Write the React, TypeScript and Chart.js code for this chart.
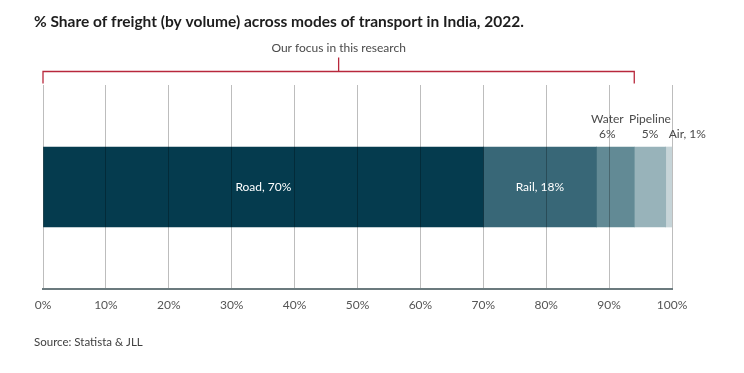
import React, { useEffect, useRef } from "react";
import { Chart, registerables } from "chart.js";

Chart.register(...registerables);

const rowLabels = ["India, 2022"];
const categories = ["Road", "Rail", "Water", "Pipeline", "Air"];
const shares = [70, 18, 6, 5, 1];
const colors = ["#053b4e", "#386777", "#628a95", "#98b3ba", "#c6d4d8"];
const focusModes = ["Road", "Rail", "Water"];
const titleText = "% Share of freight (by volume) across modes of transport in India, 2022.";
const focusText = "Our focus in this research";
const sourceText = "Source: Statista & JLL";

const FONT = "Lato, 'Noto Sans', sans-serif";

const annotations = {
  id: "annotations",
  afterDraw(chart: any) {
    const ctx = chart.ctx as CanvasRenderingContext2D;
    const xs = chart.scales.x;
    ctx.save();
    // title
    ctx.fillStyle = "#1d1d1d";
    ctx.font = `bold 15.5px ${FONT}`;
    ctx.textBaseline = "middle";
    ctx.textAlign = "left";
    ctx.fillText(titleText, 34, 22);
    // source
    ctx.fillStyle = "#404040";
    ctx.font = `11.5px ${FONT}`;
    ctx.fillText(sourceText, 34, 342);

    // focus bracket
    const focusEnd = shares
      .filter((_, i) => focusModes.includes(categories[i]))
      .reduce((a, b) => a + b, 0);
    const x0 = xs.getPixelForValue(0);
    const x1 = xs.getPixelForValue(focusEnd);
    const xm = (x0 + x1) / 2;
    const by = 71.5;
    ctx.strokeStyle = "#b8283c";
    ctx.lineWidth = 1.3;
    ctx.beginPath();
    ctx.moveTo(x0, by + 12);
    ctx.lineTo(x0, by);
    ctx.lineTo(x1, by);
    ctx.lineTo(x1, by + 12);
    ctx.moveTo(xm, by);
    ctx.lineTo(xm, by - 14);
    ctx.stroke();
    ctx.fillStyle = "#4a4a4a";
    ctx.font = `12px ${FONT}`;
    ctx.textAlign = "center";
    ctx.fillText(focusText, xm, 48);

    // data labels
    chart.data.datasets.forEach((ds: any, i: number) => {
      const meta = chart.getDatasetMeta(i);
      const bar = meta.data[0] as any;
      if (!bar) return;
      const left = bar.base;
      const right = bar.x;
      const cx = (left + right) / 2;
      const cy = bar.y;
      const name = categories[i];
      const val = shares[i];
      ctx.font = `12px ${FONT}`;
      if (val >= 10) {
        ctx.fillStyle = "#ffffff";
        ctx.textAlign = "center";
        ctx.fillText(`${name}, ${val}%`, cx, cy);
      } else if (val >= 3) {
        ctx.fillStyle = "#4a4a4a";
        ctx.textAlign = "center";
        const off = name === "Water" ? -8 : 0;
        ctx.fillText(name, cx + off, cy - 68);
        ctx.fillText(`${val}%`, cx + off, cy - 53);
      } else {
        ctx.fillStyle = "#4a4a4a";
        ctx.textAlign = "left";
        ctx.fillText(`${name}, ${val}%`, left + 3, cy - 53);
      }
    });
    ctx.restore();
  },
};

export default function App() {
  const ref = useRef<HTMLCanvasElement>(null);
  useEffect(() => {
    if (!ref.current) return;
    const chart = new Chart(ref.current, {
      type: "bar",
      data: {
        labels: rowLabels,
        datasets: categories.map((c, i) => ({
          label: c,
          data: [shares[i]],
          backgroundColor: colors[i],
          barThickness: 80,
          borderWidth: 0,
        })),
      },
      options: {
        indexAxis: "y",
        animation: false,
        responsive: false,
        layout: { padding: { left: 43, right: 72, top: 85, bottom: 44 } },
        plugins: {
          legend: { display: false },
          tooltip: { enabled: false },
          title: { display: false },
        },
        scales: {
          x: {
            type: "linear",
            stacked: true,
            min: 0,
            max: 100,
            ticks: {
              stepSize: 10,
              callback: (v: any) => `${v}%`,
              color: "#555555",
              font: { family: FONT, size: 12 },
              padding: 9,
            },
            grid: { color: "rgba(0,0,0,0.26)", drawTicks: false, z: 1 },
            border: { color: "#6b7a7e", width: 2, z: 2 },
            afterFit: (s: any) => {
              s.height = 40;
            },
          },
          y: {
            stacked: true,
            display: false,
          },
        },
      } as any,
      plugins: [annotations],
    });
    return () => chart.destroy();
  }, []);
  return (
    <div style={{ position: "absolute", left: 0, top: 0, width: 744, height: 373, background: "#fff" }}>
      <canvas ref={ref} width={744} height={373} />
    </div>
  );
}
